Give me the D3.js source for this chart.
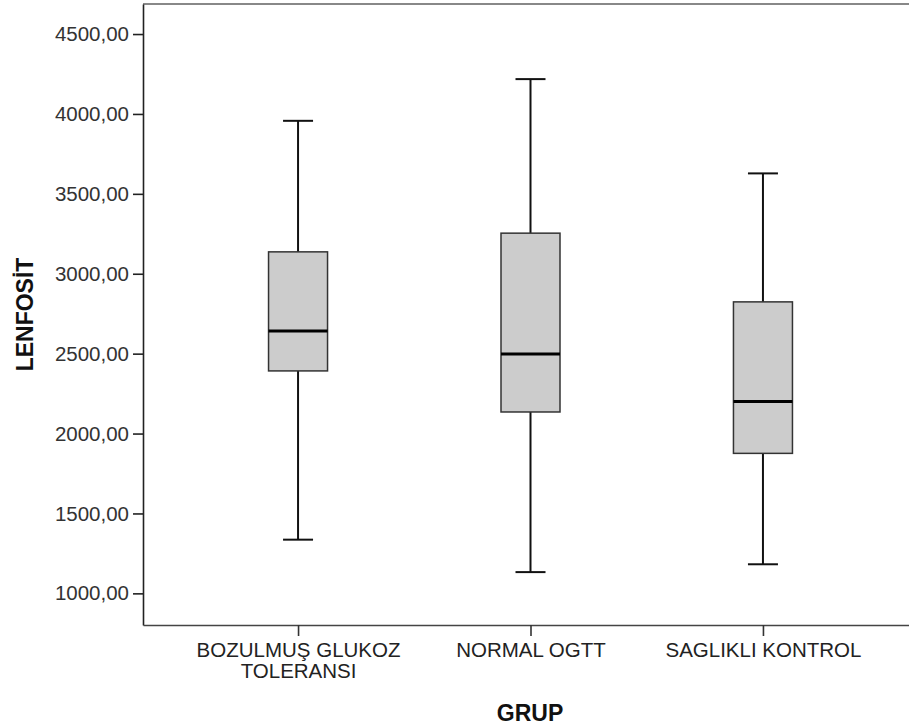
<!DOCTYPE html>
<html>
<head>
<meta charset="utf-8">
<script src="https://cdn.jsdelivr.net/npm/d3@7"></script>
<style>
  body { margin: 0; background: #fff; }
  svg { display: block; font-family: "Liberation Sans", Arial, sans-serif; }
</style>
</head>
<body>
<div id="chart"></div>
<script>
// boxplot LENFOSİT by GRUP
var categories  = ['BOZULMUŞ GLUKOZ TOLERANSI', 'NORMAL OGTT', 'SAGLIKLI KONTROL'];
var whiskerLow  = [1336, 1133, 1182];
var q1          = [2392, 2135, 1876];
var median      = [2642, 2498, 2200];
var q3          = [3137, 3254, 2824];
var whiskerHigh = [3957, 4218, 3628];
var yTicks      = [1000, 1500, 2000, 2500, 3000, 3500, 4000, 4500];

(function() {
    'use strict';

    var width = 909, height = 728;
    var left = 143, right = 918, top = 4, bottom = 625;
    var boxW = 59, capW = 30;

    var svg = d3.select('#chart')
      .append('svg')
        .attr('width', width)
        .attr('height', height);

    var x = d3.scalePoint()
        .domain(categories)
        .range([left, right])
        .padding(0.667);

    var y = d3.scaleLinear()
        .domain([802, 4688])
        .range([bottom, top]);

    var fmt = function(v) { return d3.format('.2f')(v).replace('.', ','); };

    // top frame line
    svg.append('line')
        .attr('x1', left).attr('x2', width)
        .attr('y1', top).attr('y2', top)
        .attr('stroke', '#888').attr('stroke-width', 2);

    // y axis
    var gy = svg.append('g')
        .attr('transform', 'translate(' + left + ',0)')
        .call(d3.axisLeft(y).tickValues(yTicks).tickFormat(fmt)
              .tickSize(10).tickSizeOuter(0).tickPadding(4));
    gy.select('.domain').attr('stroke', '#222').attr('stroke-width', 1.6);
    gy.selectAll('.tick line').attr('stroke', '#222').attr('stroke-width', 1.6);
    gy.selectAll('.tick text')
        .attr('font-size', 20.5)
        .attr('fill', '#333')
        .attr('font-family', '"Liberation Sans", Arial, sans-serif');

    // x axis
    var gx = svg.append('g')
        .attr('transform', 'translate(0,' + bottom + ')')
        .call(d3.axisBottom(x).tickSize(11).tickSizeOuter(0).tickPadding(6));
    gx.select('.domain').attr('stroke', '#444').attr('stroke-width', 1.6);
    gx.selectAll('.tick line').attr('stroke', '#333').attr('stroke-width', 1.6);
    gx.selectAll('.tick text')
        .attr('font-size', 20.5)
        .attr('fill', '#222')
        .attr('font-family', '"Liberation Sans", Arial, sans-serif')
        .call(wrap, 225);

    function wrap(texts, w) {
        texts.each(function() {
            var t = d3.select(this);
            var words = t.text().split(' ');
            var lines = [], line = [];
            t.text(null);
            var probe = t.append('tspan');
            words.forEach(function(word) {
                line.push(word);
                probe.text(line.join(' '));
                if (probe.node().getComputedTextLength() > w && line.length > 1) {
                    line.pop();
                    lines.push(line.join(' '));
                    line = [word];
                }
            });
            lines.push(line.join(' '));
            probe.remove();
            var dy = t.attr('dy');
            lines.forEach(function(l, i) {
                t.append('tspan')
                    .attr('x', 0)
                    .attr('dy', i === 0 ? dy : '1.05em')
                    .text(l);
            });
            t.attr('dy', null);
        });
    }

    // boxes
    var data = categories.map(function(c, i) {
        return { c: c, lo: whiskerLow[i], q1: q1[i], med: median[i], q3: q3[i], hi: whiskerHigh[i] };
    });

    var g = svg.selectAll('.box')
        .data(data)
      .enter().append('g')
        .attr('class', 'box')
        .attr('transform', function(d) { return 'translate(' + x(d.c) + ',0)'; });

    // whiskers
    g.append('line')
        .attr('x1', 0).attr('x2', 0)
        .attr('y1', function(d) { return y(d.hi); })
        .attr('y2', function(d) { return y(d.q3); })
        .attr('stroke', '#111').attr('stroke-width', 2);
    g.append('line')
        .attr('x1', 0).attr('x2', 0)
        .attr('y1', function(d) { return y(d.q1); })
        .attr('y2', function(d) { return y(d.lo); })
        .attr('stroke', '#111').attr('stroke-width', 2);
    // caps
    g.append('line')
        .attr('x1', -capW / 2).attr('x2', capW / 2)
        .attr('y1', function(d) { return y(d.hi); })
        .attr('y2', function(d) { return y(d.hi); })
        .attr('stroke', '#111').attr('stroke-width', 2);
    g.append('line')
        .attr('x1', -capW / 2).attr('x2', capW / 2)
        .attr('y1', function(d) { return y(d.lo); })
        .attr('y2', function(d) { return y(d.lo); })
        .attr('stroke', '#111').attr('stroke-width', 2);

    // box
    g.append('rect')
        .attr('x', -boxW / 2)
        .attr('width', boxW)
        .attr('y', function(d) { return y(d.q3); })
        .attr('height', function(d) { return y(d.q1) - y(d.q3); })
        .attr('fill', '#cccccc')
        .attr('stroke', '#333')
        .attr('stroke-width', 1.5);

    // median
    g.append('line')
        .attr('x1', -boxW / 2).attr('x2', boxW / 2)
        .attr('y1', function(d) { return y(d.med); })
        .attr('y2', function(d) { return y(d.med); })
        .attr('stroke', '#000').attr('stroke-width', 3);

    // axis titles
    svg.append('text')
        .attr('x', 530)
        .attr('y', 721)
        .attr('text-anchor', 'middle')
        .attr('font-size', 23)
        .attr('font-weight', 'bold')
        .attr('fill', '#111')
        .text('GRUP');

    svg.append('text')
        .attr('transform', 'translate(33,' + (top + bottom) / 2 + ') rotate(-90)')
        .attr('text-anchor', 'middle')
        .attr('font-size', 23)
        .attr('font-weight', 'bold')
        .attr('fill', '#111')
        .text('LENFOSİT');
}());
</script>
</body>
</html>
